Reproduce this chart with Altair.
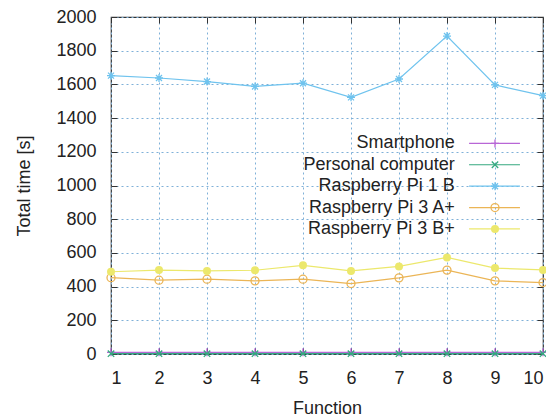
import altair as alt
import pandas as pd

functions = [1, 2, 3, 4, 5, 6, 7, 8, 9, 10]
series = ["Smartphone", "Personal computer", "Raspberry Pi 1 B",
          "Raspberry Pi 3 A+", "Raspberry Pi 3 B+"]
smartphone = [10, 10, 10, 10, 10, 10, 10, 10, 10, 10]
personal_computer = [2, 2, 2, 2, 2, 2, 2, 2, 2, 2]
pi_1b = [1652, 1638, 1617, 1588, 1607, 1523, 1632, 1887, 1597, 1533]
pi_3a = [453, 438, 444, 434, 444, 418, 452, 498, 434, 424]
pi_3b = [488, 498, 493, 497, 526, 493, 520, 573, 510, 499]
y_ticks = [0, 200, 400, 600, 800, 1000, 1200, 1400, 1600, 1800, 2000]

values = [smartphone, personal_computer, pi_1b, pi_3a, pi_3b]
rows = []
for name, vals in zip(series, values):
    for f, v in zip(functions, vals):
        rows.append({"series": name, "function": f, "time": v})
df = pd.DataFrame(rows)
legend_df = pd.DataFrame({"series": series, "row": list(range(len(series)))})

colors = ["#b866d6", "#35a97f", "#6fc3ee", "#ebb556", "#ece86c"]
plus = "M-1,0L1,0M0,-1L0,1"
cross = "M-0.8,-0.8L0.8,0.8M-0.8,0.8L0.8,-0.8"
star = "M-1,0L1,0M0,-1L0,1M-0.75,-0.75L0.75,0.75M-0.75,0.75L0.75,-0.75"
shapes = [plus, cross, star, "circle", "circle"]

FONT = "Liberation Sans"
xscale = alt.Scale(domain=[1, 10], nice=False, zero=False)
yscale = alt.Scale(domain=[0, 2000], nice=False)
color = alt.Color("series:N", scale=alt.Scale(domain=series, range=colors), legend=None)
shape = alt.Shape("series:N", scale=alt.Scale(domain=series, range=shapes), legend=None)
size_pt = alt.Size("series:N", scale=alt.Scale(domain=series, range=[64, 64, 64, 50, 40]), legend=None)
width_line = alt.StrokeWidth("series:N", scale=alt.Scale(domain=series, range=[1.2, 1.2, 1.2, 2.2, 2.2]), legend=None)

grid_x = alt.Axis(orient="bottom", values=functions, grid=True, gridDash=[2, 3],
                  gridColor="#7fb0d8", gridWidth=1, ticks=False, domain=False,
                  labelPadding=15, title="Function", titlePadding=12, format="d")
grid_y = alt.Axis(orient="left", values=y_ticks, grid=True, gridDash=[2, 3],
                  gridColor="#7fb0d8", gridWidth=1, ticks=False, domain=False,
                  labelPadding=15, title="Total time [s]", titlePadding=22, format="d")

lines = alt.Chart(df).mark_line().encode(
    x=alt.X("function:Q", scale=xscale, axis=grid_x),
    y=alt.Y("time:Q", scale=yscale, axis=grid_y),
    color=color, strokeWidth=width_line, detail="series:N",
)

def tick_axes(xo, yo):
    ax = alt.Axis(orient=xo, values=functions, grid=False, labels=False, domain=False,
                  ticks=True, tickSize=6, tickColor="#333", offset=-6, title=None)
    ay = alt.Axis(orient=yo, values=y_ticks, grid=False, labels=False, domain=False,
                  ticks=True, tickSize=6, tickColor="#333", offset=-6, title=None)
    return alt.Chart(df).mark_point(opacity=0).encode(
        x=alt.X("function:Q", scale=xscale, axis=ax),
        y=alt.Y("time:Q", scale=yscale, axis=ay),
    )

ticks_a = tick_axes("bottom", "left")
ticks_b = tick_axes("top", "right")

pts = alt.Chart(df).transform_filter(
    alt.datum.series != "Raspberry Pi 3 B+"
).mark_point(filled=False, strokeWidth=1.3, opacity=1).encode(
    x=alt.X("function:Q", scale=xscale, axis=None),
    y=alt.Y("time:Q", scale=yscale, axis=None),
    color=color, shape=shape, size=size_pt,
)
dots = alt.Chart(df).transform_filter(
    alt.datum.series == "Raspberry Pi 3 B+"
).mark_point(filled=True, opacity=1).encode(
    x=alt.X("function:Q", scale=xscale, axis=None),
    y=alt.Y("time:Q", scale=yscale, axis=None),
    color=color, shape=shape, size=size_pt,
)

leg_base = alt.Chart(legend_df).transform_calculate(ly="1250 - 127*datum.row")
leg_text = leg_base.mark_text(align="right", baseline="middle", font=FONT,
                              fontSize=18, color="#222").encode(
    x=alt.X(datum=8.16, axis=None),
    y=alt.Y("ly:Q", axis=None),
    text="series:N",
)
leg_line = leg_base.mark_rule().encode(
    x=alt.X(datum=8.46, axis=None), x2=alt.X2(datum=9.52),
    y=alt.Y("ly:Q", axis=None),
    color=color, strokeWidth=width_line,
)
leg_pts = leg_base.transform_filter(
    alt.datum.series != "Raspberry Pi 3 B+"
).mark_point(filled=False, strokeWidth=1.3, opacity=1).encode(
    x=alt.X(datum=9.0, axis=None), y=alt.Y("ly:Q", axis=None),
    color=color, shape=shape, size=size_pt,
)
leg_dot = leg_base.transform_filter(
    alt.datum.series == "Raspberry Pi 3 B+"
).mark_point(filled=True, opacity=1).encode(
    x=alt.X(datum=9.0, axis=None), y=alt.Y("ly:Q", axis=None),
    color=color, shape=shape, size=size_pt,
)

chart = alt.layer(
    lines, ticks_a, ticks_b, pts, dots, leg_text, leg_line, leg_pts, leg_dot
).resolve_axis(x="independent", y="independent").properties(
    width=432, height=337,
    autosize=alt.AutoSizeParams(type="none"),
    padding={"left": 103, "top": 9, "right": 3, "bottom": 62},
    background="white",
).configure_view(
    stroke="#333", strokeWidth=1.2
).configure_axis(
    labelFont=FONT, labelFontSize=18, labelColor="#222",
    titleFont=FONT, titleFontSize=18, titleColor="#222", titleFontWeight="normal",
)

chart.save("out.html", embed_options={"renderer": "svg", "actions": False})
